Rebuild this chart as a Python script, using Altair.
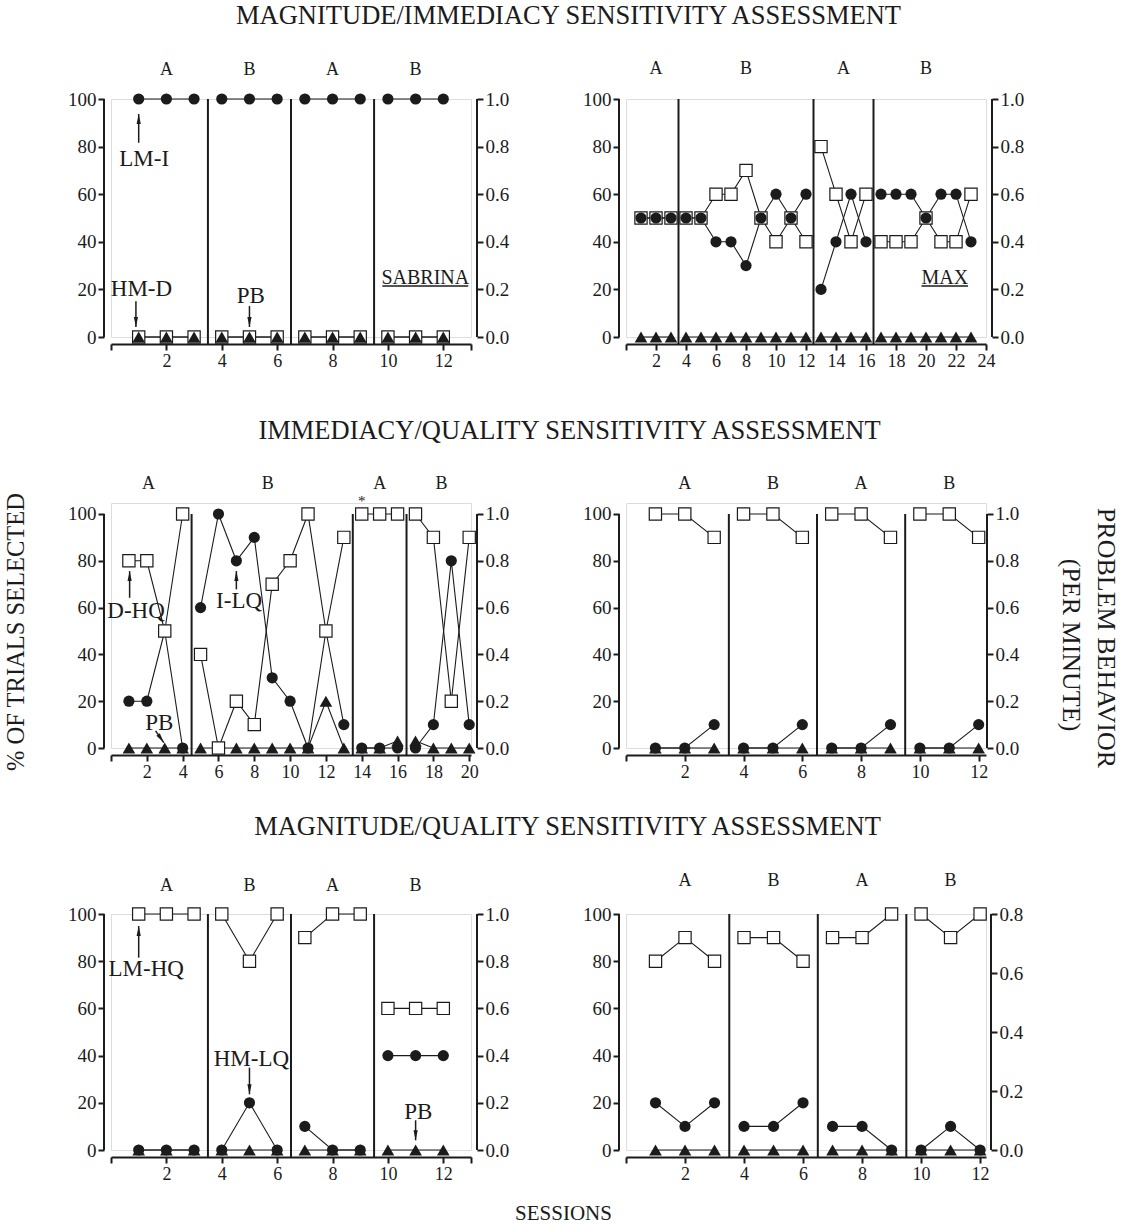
import altair as alt
import pandas as pd

FONT = "Liberation Serif"
INK = "#1b1b1b"

# ---------------------------------------------------------------- data
# Sabrina - magnitude / immediacy (squares HM-D, circles LM-I, triangles PB)
SAB_MI_SESSION = [1, 2, 3, 4, 5, 6, 7, 8, 9, 10, 11, 12]
SAB_MI_PHASE = [1, 1, 1, 2, 2, 2, 3, 3, 3, 4, 4, 4]
SAB_MI_SQUARE = [0, 0, 0, 0, 0, 0, 0, 0, 0, 0, 0, 0]
SAB_MI_CIRCLE = [100, 100, 100, 100, 100, 100, 100, 100, 100, 100, 100, 100]
SAB_MI_PB = [0.0, 0.0, 0.0, 0.0, 0.0, 0.0, 0.0, 0.0, 0.0, 0.0, 0.0, 0.0]

# Max - magnitude / immediacy
MAX_MI_SESSION = [1, 2, 3, 4, 5, 6, 7, 8, 9, 10, 11, 12, 13, 14, 15, 16, 17, 18, 19, 20, 21, 22, 23]
MAX_MI_PHASE = [1, 1, 1, 2, 2, 2, 2, 2, 2, 2, 2, 2, 3, 3, 3, 3, 4, 4, 4, 4, 4, 4, 4]
MAX_MI_SQUARE = [50, 50, 50, 50, 50, 60, 60, 70, 50, 40, 50, 40, 80, 60, 40, 60, 40, 40, 40, 50, 40, 40, 60]
MAX_MI_CIRCLE = [50, 50, 50, 50, 50, 40, 40, 30, 50, 60, 50, 60, 20, 40, 60, 40, 60, 60, 60, 50, 60, 60, 40]
MAX_MI_PB = [0.0, 0.0, 0.0, 0.0, 0.0, 0.0, 0.0, 0.0, 0.0, 0.0, 0.0, 0.0,
             0.0, 0.0, 0.0, 0.0, 0.0, 0.0, 0.0, 0.0, 0.0, 0.0, 0.0]

# Sabrina - immediacy / quality (squares D-HQ, circles I-LQ)
SAB_IQ_SESSION = [1, 2, 3, 4, 5, 6, 7, 8, 9, 10, 11, 12, 13, 14, 15, 16, 17, 18, 19, 20]
SAB_IQ_PHASE = [1, 1, 1, 1, 2, 2, 2, 2, 2, 2, 2, 2, 2, 3, 3, 3, 4, 4, 4, 4]
SAB_IQ_SQUARE = [80, 80, 50, 100, 40, 0, 20, 10, 70, 80, 100, 50, 90, 100, 100, 100, 100, 90, 20, 90]
SAB_IQ_CIRCLE = [20, 20, 50, 0, 60, 100, 80, 90, 30, 20, 0, 50, 10, 0, 0, 0, 0, 10, 80, 10]
SAB_IQ_PB = [0.0, 0.0, 0.0, 0.0, 0.0, 0.0, 0.0, 0.0, 0.0, 0.0, 0.0, 0.2, 0.0,
             0.0, 0.0, 0.03, 0.03, 0.0, 0.0, 0.0]

# Max - immediacy / quality
MAX_IQ_SESSION = [1, 2, 3, 4, 5, 6, 7, 8, 9, 10, 11, 12]
MAX_IQ_PHASE = [1, 1, 1, 2, 2, 2, 3, 3, 3, 4, 4, 4]
MAX_IQ_SQUARE = [100, 100, 90, 100, 100, 90, 100, 100, 90, 100, 100, 90]
MAX_IQ_CIRCLE = [0, 0, 10, 0, 0, 10, 0, 0, 10, 0, 0, 10]
MAX_IQ_PB = [0.0, 0.0, 0.0, 0.0, 0.0, 0.0, 0.0, 0.0, 0.0, 0.0, 0.0, 0.0]

# Sabrina - magnitude / quality (squares LM-HQ, circles HM-LQ)
SAB_MQ_SESSION = [1, 2, 3, 4, 5, 6, 7, 8, 9, 10, 11, 12]
SAB_MQ_PHASE = [1, 1, 1, 2, 2, 2, 3, 3, 3, 4, 4, 4]
SAB_MQ_SQUARE = [100, 100, 100, 100, 80, 100, 90, 100, 100, 60, 60, 60]
SAB_MQ_CIRCLE = [0, 0, 0, 0, 20, 0, 10, 0, 0, 40, 40, 40]
SAB_MQ_PB = [0.0, 0.0, 0.0, 0.0, 0.0, 0.0, 0.0, 0.0, 0.0, 0.0, 0.0, 0.0]

# Max - magnitude / quality
MAX_MQ_SESSION = [1, 2, 3, 4, 5, 6, 7, 8, 9, 10, 11, 12]
MAX_MQ_PHASE = [1, 1, 1, 2, 2, 2, 3, 3, 3, 4, 4, 4]
MAX_MQ_SQUARE = [80, 90, 80, 90, 90, 80, 90, 90, 100, 100, 90, 100]
MAX_MQ_CIRCLE = [20, 10, 20, 10, 10, 20, 10, 10, 0, 0, 10, 0]
MAX_MQ_PB = [0.0, 0.0, 0.0, 0.0, 0.0, 0.0, 0.0, 0.0, 0.0, 0.0, 0.0, 0.0]

# phase labels (session position of each A/B letter)
PHASE_TEXT = ["A", "B", "A", "B"]
SAB_MI_PHASE_AT = [2, 5, 8, 11]
MAX_MI_PHASE_AT = [2, 8, 14.5, 20]
SAB_IQ_PHASE_AT = [2.1, 8.75, 15, 18.45]
MAX_IQ_PHASE_AT = [2, 5, 8, 11]
SAB_MQ_PHASE_AT = [2, 5, 8, 11]
MAX_MQ_PHASE_AT = [2, 5, 8, 11]

# ---------------------------------------------------------------- layout
W = 360
GAP = 7  # distance of the axes from the plotting area
ROWS = {1: dict(h=238, ytop=100.0), 2: dict(h=245, ytop=104.7), 3: dict(h=236, ytop=100.0)}

# arrowheads as unit paths (tip first)
HEAD_UP = "M0,-1L0.42,1L-0.42,1Z"
HEAD_DOWN = "M0,1L0.42,-1L-0.42,-1Z"
HEAD_DOWN_RIGHT = "M0.574,0.819L-0.230,-1.060L-0.918,-0.578Z"


def axis_style(**kw):
    base = dict(labelFont=FONT, labelFontSize=19, labelColor=INK, tickColor=INK,
                tickWidth=2, tickSize=6, domainColor=INK, domainWidth=2, grid=False,
                title=None, labelPadding=2, labelFlush=False, labelOverlap=False)
    base.update(kw)
    return alt.Axis(**base)


def rotated_offset(ox, oy, angle):
    """dx/dy act before the rotation; turn a screen offset into them."""
    if angle == 270:
        return -oy, ox
    if angle == 90:
        return oy, -ox
    return ox, oy


def make_panel(p):
    row = ROWS[p["row"]]
    h, ytop = row["h"], row["ytop"]
    rtop = p["rmax"] * ytop / 100.0
    xs = alt.Scale(domain=[0, p["xmax"]], nice=False, zero=False)
    ys = alt.Scale(domain=[0, ytop], nice=False, zero=False)
    rs = alt.Scale(domain=[0, rtop], nice=False, zero=False)
    hide = " || ".join(f"datum.value == {v}" for v in p["xhide"])
    X = alt.X("s:Q", scale=xs,
              axis=axis_style(values=p["xticks"], offset=GAP, labelFontSize=18,
                              labelExpr=f"({hide}) ? '' : datum.label"))

    def Y(field, scale=ys, axis=None):
        return alt.Y(field, type="quantitative", scale=scale, axis=axis)

    df = pd.DataFrame({"s": p["session"], "phase": p["phase"], "sq": p["square"],
                       "ci": p["circle"], "pb": p["pb"]})
    base = alt.Chart(df)
    layers = []

    # axis lines (left in percent, right in responses per minute)
    left_axis = axis_style(orient="left", values=[0, 20, 40, 60, 80, 100], domain=False, offset=GAP)
    rticks = [round(0.2 * i, 1) for i in range(int(round(p["rmax"] / 0.2)) + 1)]
    right_axis = axis_style(orient="right", values=rticks, domain=False, format=".1f",
                            offset=p["roff"])
    axis_rows = pd.DataFrame({"s": [0], "lo": [0.0], "hi": [100.0], "rhi": [p["rmax"]]})
    layers.append(alt.Chart(axis_rows).mark_rule(color=INK, strokeWidth=2).encode(
        x=X, xOffset=alt.value(-GAP), y=Y("hi", axis=left_axis), y2=alt.Y2("lo")))
    layers.append(alt.Chart(axis_rows).mark_rule(color=INK, strokeWidth=2).encode(
        x=X, xOffset=alt.value(W + p["roff"]), y=Y("rhi", rs, right_axis), y2=alt.Y2("lo")))

    # phase-change lines
    cuts = pd.DataFrame({"s": p["cuts"], "top": [100] * len(p["cuts"]),
                         "bot": [-GAP * ytop / h] * len(p["cuts"])})
    layers.append(alt.Chart(cuts).mark_rule(color=INK, strokeWidth=2).encode(
        x=X, y=Y("top"), y2=alt.Y2("bot")))

    # connecting lines within each phase
    for field, sc in (("sq", ys), ("ci", ys), ("pb", rs)):
        layers.append(base.mark_line(color=INK, strokeWidth=1.1).encode(
            x=X, y=Y(field, sc), detail="phase:N"))

    markers = {
        "sq": base.mark_point(shape="square", filled=True, fill="white", stroke=INK,
                              strokeWidth=1.2, size=150, opacity=1).encode(x=X, y=Y("sq")),
        "ci": base.mark_point(shape="circle", filled=True, color=INK, size=125,
                              opacity=1).encode(x=X, y=Y("ci")),
        "pb": base.mark_point(shape="triangle-up", filled=True, color=INK, size=160,
                              opacity=1).encode(x=X, y=Y("pb", rs)),
    }
    for key in p["order"]:
        layers.append(markers[key])

    # phase letters
    ph = pd.DataFrame({"s": p["phase_at"], "v": [p["phase_v"]] * 4, "t": PHASE_TEXT})
    layers.append(alt.Chart(ph).mark_text(font=FONT, fontSize=18, color=INK).encode(
        x=X, y=Y("v"), text="t:N"))

    # labels for the series (and the asterisk note), each with its own type size
    notes = list(p.get("notes", []))
    if notes:
        nt = pd.DataFrame(notes, columns=["t", "s", "v", "fs"])
        layers.append(alt.Chart(nt).mark_text(font=FONT, color=INK).encode(
            x=X, y=Y("v"), text="t:N", size=alt.Size("fs:Q", scale=None, legend=None)))
    for arrows, path, dy in ((p.get("up", []), HEAD_UP, 5), (p.get("down", []), HEAD_DOWN, -5)):
        if not arrows:
            continue
        ar = pd.DataFrame(arrows, columns=["s", "v0", "v1"])
        layers.append(alt.Chart(ar).mark_rule(color=INK, strokeWidth=1.5).encode(
            x=X, y=Y("v0"), y2=alt.Y2("v1")))
        layers.append(alt.Chart(ar).mark_point(shape=path, filled=True, color=INK, size=100,
                                               opacity=1, yOffset=dy).encode(x=X, y=Y("v1")))
    if p.get("slant"):
        s0, v0, s1, v1 = p["slant"]
        sl = pd.DataFrame({"s": [s0, s1], "v": [v0, v1]})
        layers.append(alt.Chart(sl).mark_line(color=INK, strokeWidth=1.5).encode(
            x=X, y=Y("v")))
        head = pd.DataFrame({"s": [s1], "v": [v1]})
        layers.append(alt.Chart(head).mark_point(shape=HEAD_DOWN_RIGHT, filled=True,
                                                 color=INK, size=100, opacity=1,
                                                 xOffset=-2.9, yOffset=-4.1).encode(
            x=X, y=Y("v")))

    # participant name, underlined
    if p.get("name"):
        t, s, v, s0, s1, vu = p["name"]
        nm = pd.DataFrame({"t": [t], "s": [s], "v": [v]})
        ul = pd.DataFrame({"s": [s0], "s1": [s1], "v": [vu]})
        layers.append(alt.Chart(nm).mark_text(font=FONT, fontSize=20, color=INK).encode(
            x=X, y=Y("v"), text="t:N"))
        layers.append(alt.Chart(ul).mark_rule(color=INK, strokeWidth=1.5).encode(
            x=X, x2=alt.X2("s1"), y=Y("v")))

    # headings and axis titles, placed relative to the panel's top-left corner
    for t, ox, oy, size, ang in p.get("page", []):
        dx, dy = rotated_offset(ox, oy, ang)
        pg = pd.DataFrame({"t": [t], "s": [0], "v": [ytop]})
        layers.append(alt.Chart(pg).mark_text(
            font=FONT, fontSize=size, color=INK, angle=ang, dx=dx, dy=dy).encode(
            x=X, y=Y("v"), text="t:N"))

    return alt.layer(*layers).resolve_scale(y="independent").properties(width=W, height=h)


PANELS = [
    dict(row=1, session=SAB_MI_SESSION, phase=SAB_MI_PHASE, square=SAB_MI_SQUARE,
         circle=SAB_MI_CIRCLE, pb=SAB_MI_PB, xmax=13, xticks=[0, 2, 4, 6, 8, 10, 12, 13],
         xhide=[0, 13], cuts=[3.5, 6.5, 9.5], rmax=1.0, roff=6, order=["ci", "sq", "pb"],
         phase_at=SAB_MI_PHASE_AT, phase_v=112,
         notes=[("LM-I", 1.2, 75, 23), ("HM-D", 1.1, 20, 23), ("PB", 5.05, 17.2, 23)],
         up=[(1.0, 81.6, 93.7)], down=[(0.9, 15, 4.2), (5.0, 13, 4.2)],
         name=("SABRINA", 11.35, 24.8, 9.8, 12.9, 21.4),
         page=[("MAGNITUDE/IMMEDIACY SENSITIVITY ASSESSMENT", 457.5, -83, 26.5, 0),
               ("% OF TRIALS SELECTED", -94.5, 533, 24.5, 270)]),
    dict(row=1, session=MAX_MI_SESSION, phase=MAX_MI_PHASE, square=MAX_MI_SQUARE,
         circle=MAX_MI_CIRCLE, pb=MAX_MI_PB, xmax=24,
         xticks=[0, 2, 4, 6, 8, 10, 12, 14, 16, 18, 20, 22, 24], xhide=[0],
         cuts=[3.5, 12.5, 16.5], rmax=1.0, roff=6, order=["sq", "ci", "pb"],
         phase_at=MAX_MI_PHASE_AT, phase_v=112.5,
         name=("MAX", 21.26, 25, 19.7, 22.8, 21.4)),
    dict(row=2, session=SAB_IQ_SESSION, phase=SAB_IQ_PHASE, square=SAB_IQ_SQUARE,
         circle=SAB_IQ_CIRCLE, pb=SAB_IQ_PB, xmax=20.1,
         xticks=[0, 2, 4, 6, 8, 10, 12, 14, 16, 18, 20], xhide=[0],
         cuts=[4.5, 13.5, 16.5], rmax=1.0, roff=6, order=["pb", "ci", "sq"],
         phase_at=SAB_IQ_PHASE_AT, phase_v=113,
         notes=[("D-HQ", 1.4, 58.5, 23), ("I-LQ", 7.15, 62.8, 23), ("PB", 2.7, 10.8, 23),
                ("*", 14.0, 105.5, 15)],
         up=[(1.04, 64.2, 75.6), (7.0, 67.8, 75.6)], slant=(2.49, 7.3, 2.95, 2.3),
         page=[("IMMEDIACY/QUALITY SENSITIVITY ASSESSMENT", 458.5, -72, 26.5, 0)]),
    dict(row=2, session=MAX_IQ_SESSION, phase=MAX_IQ_PHASE, square=MAX_IQ_SQUARE,
         circle=MAX_IQ_CIRCLE, pb=MAX_IQ_PB, xmax=12.25,
         xticks=[0, 2, 4, 6, 8, 10, 12], xhide=[0], cuts=[3.5, 6.5, 9.5], rmax=1.0, roff=1,
         order=["sq", "pb", "ci"], phase_at=MAX_IQ_PHASE_AT, phase_v=113,
         page=[("PROBLEM BEHAVIOR", 479.5, 135, 26, 90), ("(PER MINUTE)", 444.5, 142, 26, 90)]),
    dict(row=3, session=SAB_MQ_SESSION, phase=SAB_MQ_PHASE, square=SAB_MQ_SQUARE,
         circle=SAB_MQ_CIRCLE, pb=SAB_MQ_PB, xmax=13, xticks=[0, 2, 4, 6, 8, 10, 12, 13],
         xhide=[0, 13], cuts=[3.5, 6.5, 9.5], rmax=1.0, roff=6, order=["sq", "pb", "ci"],
         phase_at=SAB_MQ_PHASE_AT, phase_v=112,
         notes=[("LM-HQ", 1.27, 76.7, 23), ("HM-LQ", 5.07, 38.4, 23), ("PB", 11.1, 16.2, 23)],
         up=[(1.0, 81.5, 94.9)], down=[(5.0, 34.9, 23.6), (11.0, 12.6, 4.1)],
         page=[("MAGNITUDE/QUALITY SENSITIVITY ASSESSMENT", 456.5, -87, 26.5, 0),
               ("SESSIONS", 452.5, 300, 21, 0)]),
    dict(row=3, session=MAX_MQ_SESSION, phase=MAX_MQ_PHASE, square=MAX_MQ_SQUARE,
         circle=MAX_MQ_CIRCLE, pb=MAX_MQ_PB, xmax=12.2,
         xticks=[0, 2, 4, 6, 8, 10, 12], xhide=[0], cuts=[3.5, 6.5, 9.5], rmax=0.8, roff=5,
         order=["sq", "pb", "ci"], phase_at=MAX_MQ_PHASE_AT, phase_v=114),
]

chart = alt.concat(
    *[make_panel(p) for p in PANELS],
    columns=2,
    spacing={"row": 166, "column": 155},
    bounds="flush",
    padding={"left": 3, "top": 2, "right": 5, "bottom": 5},
).configure_view(stroke=None, strokeWidth=0, fill=None).configure_axis(
    grid=False).configure(background="white")

chart.save("out.html", embed_options={"renderer": "svg", "actions": False})
